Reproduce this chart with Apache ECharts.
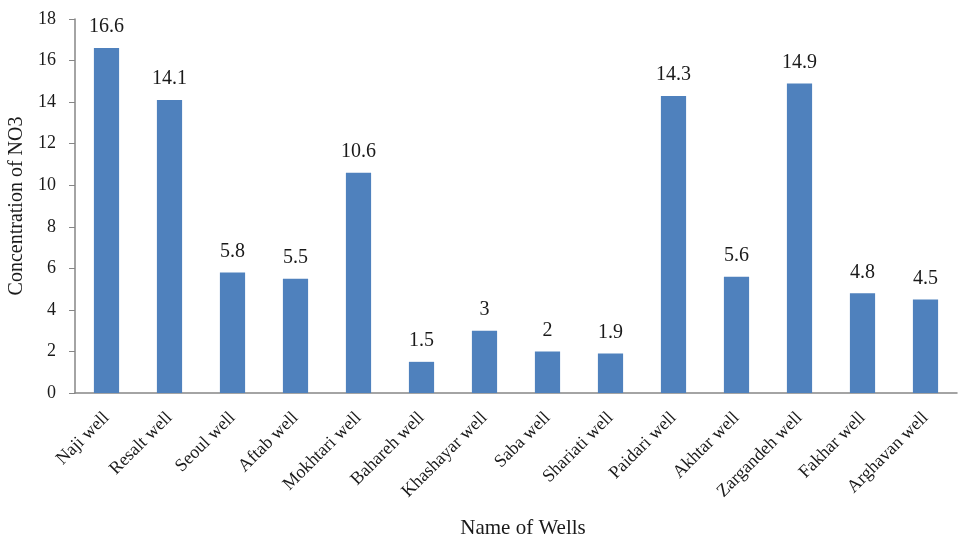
<!DOCTYPE html>
<html>
<head>
<meta charset="utf-8">
<script src="https://cdn.jsdelivr.net/npm/echarts@6/dist/echarts.min.js"></script>
<style>
  html, body { margin: 0; padding: 0; background: #fff; }
  #chart { width: 960px; height: 539px; }
</style>
</head>
<body>
<div id="chart"></div>
<script>
// Nitrate concentration per well
const wells = ['Naji well', 'Resalt well', 'Seoul well', 'Aftab well', 'Mokhtari well',
  'Bahareh well', 'Khashayar well', 'Saba well', 'Shariati well', 'Paidari well',
  'Akhtar well', 'Zargandeh well', 'Fakhar well', 'Arghavan well'];
const no3 = [16.6, 14.1, 5.8, 5.5, 10.6, 1.5, 3, 2, 1.9, 14.3, 5.6, 14.9, 4.8, 4.5];

const fontFam = '"Liberation Serif", "Times New Roman", serif';
const axisColor = '#868686';
const textColor = '#1a1a1a';

const chart = echarts.init(document.getElementById('chart'), null, { renderer: 'canvas' });
chart.setOption({
  animation: false,
  backgroundColor: '#ffffff',
  grid: {
    left: 75, right: 3, top: 19, bottom: 146,
    containLabel: false,
    outerBoundsMode: 'none'
  },
  xAxis: {
    type: 'category',
    data: wells,
    name: 'Name of Wells',
    nameLocation: 'middle',
    nameGap: 125,
    nameTextStyle: { fontFamily: fontFam, fontSize: 21, color: textColor, padding: [0, 0, 0, 14] },
    axisLine: { lineStyle: { color: axisColor, width: 1.5 } },
    axisTick: { show: false },
    axisLabel: {
      rotate: 45,
      interval: 0,
      margin: 22,
      fontFamily: fontFam,
      fontSize: 18,
      color: textColor
    }
  },
  yAxis: {
    type: 'value',
    min: 0,
    max: 18,
    interval: 2,
    name: 'Concentration of NO3',
    nameLocation: 'middle',
    nameGap: 45,
    nameTextStyle: { fontFamily: fontFam, fontSize: 20, color: textColor },
    axisLine: { show: true, lineStyle: { color: axisColor, width: 1.5 } },
    axisTick: { show: true, length: 6, inside: false, lineStyle: { color: axisColor } },
    splitLine: { show: false },
    axisLabel: { fontFamily: fontFam, fontSize: 18, color: textColor, margin: 19 }
  },
  series: [{
    type: 'bar',
    data: no3,
    barWidth: '40%',
    itemStyle: { color: '#4F81BD' },
    label: {
      show: true,
      position: 'top',
      distance: 11,
      fontFamily: fontFam,
      fontSize: 20,
      color: textColor
    }
  }]
});
</script>
</body>
</html>
